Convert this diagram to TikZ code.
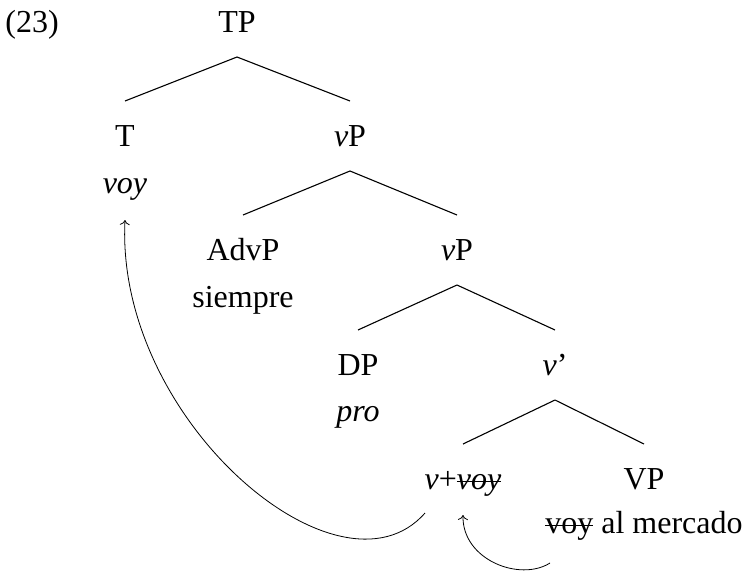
\documentclass[tikz,border=0pt]{standalone}
\usepackage{fontspec}
\setmainfont{Liberation Serif}
\newsavebox\strkbox
\newcommand\strk[1]{\sbox\strkbox{#1}\rlap{\usebox\strkbox}\rule[7pt]{\wd\strkbox}{1.2pt}}
\usetikzlibrary{arrows.meta}
\begin{document}
\begin{tikzpicture}[x=1pt,y=-1pt,
  lab/.style={anchor=base,inner sep=0pt,font=\fontsize{32}{46}\selectfont},
  branch/.style={line width=1.1pt},
  move/.style={line width=0.8pt,-{To[length=5pt,width=10pt]}}]
\useasboundingbox (0,0) rectangle (746,570);
% labels
\node[lab] (ex) at (32,32) {(23)};
\node[lab] (TP) at (237,32) {TP};
\node[lab] (T) at (125,146) {T};
\node[lab] (Tw) at (125,193) {\textit{voy}};
\node[lab] (vP1) at (350,146) {\textit{v}P};
\node[lab] (AdvP) at (243,260) {AdvP};
\node[lab] (AdvPw) at (243,307) {siempre};
\node[lab] (vP2) at (457,260) {\textit{v}P};
\node[lab] (DP) at (358,375) {DP};
\node[lab] (DPw) at (358,421) {\textit{pro}};
\node[lab] (vbar) at (555,375) {\textit{v}’};
\node[lab] (vvoy) at (463,489) {\textit{v}+\strk{\textit{voy}}};
\node[lab] (VP) at (644,489) {VP};
\node[lab] (VPw) at (644,533) {\strk{voy} al mercado};
% branches
\foreach \p/\c in {TP/T,TP/vP1,vP1/AdvP,vP1/vP2,vP2/DP,vP2/vbar,vbar/vvoy,vbar/VP}
  \draw[branch] ([yshift=-25pt]\p.base) -- ([yshift=45pt]\c.base);
% movement arrows
\draw[move] ([xshift=-38pt,yshift=-24pt]vvoy.base) .. controls (340,610) and (115,420) .. ([yshift=-27pt]Tw.base);
\draw[move] ([xshift=-94pt,yshift=-30pt]VPw.base) .. controls (520,582) and (462,560) .. ([yshift=-26pt]vvoy.base);
\end{tikzpicture}
\end{document}
